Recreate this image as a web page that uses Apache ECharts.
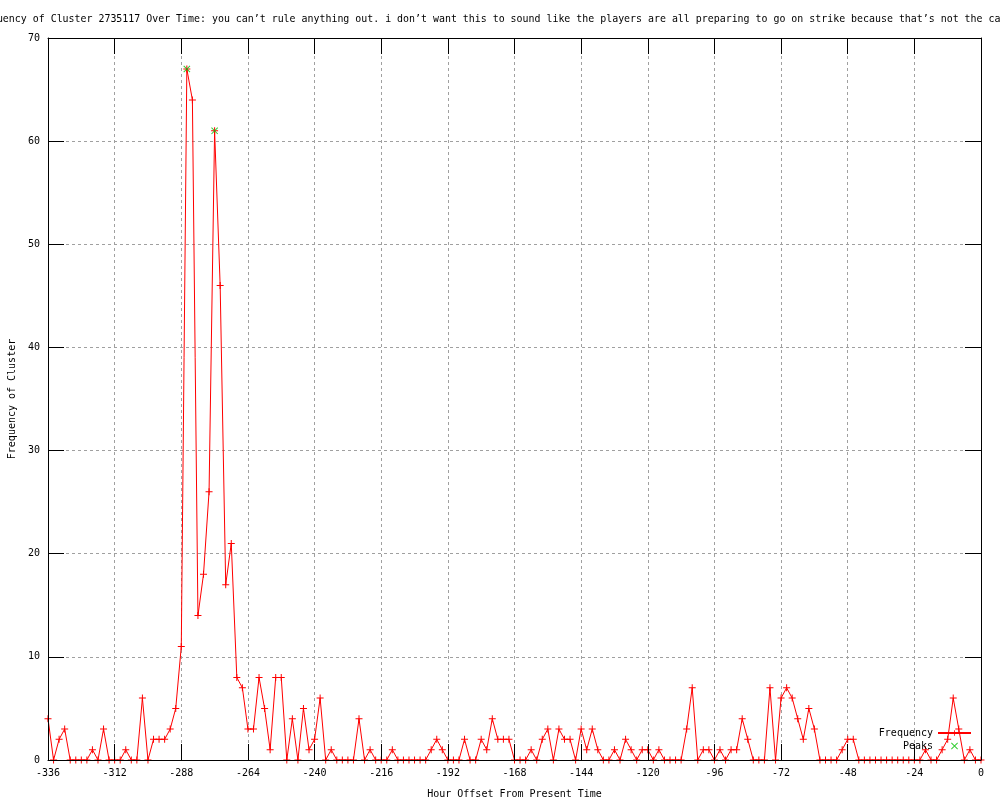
<!DOCTYPE html>
<html><head><meta charset="utf-8">
<script src="https://cdn.jsdelivr.net/npm/echarts@6/dist/echarts.min.js"></script>
<style>html,body{margin:0;padding:0;background:#fff}#c{width:1000px;height:800px}</style>
</head><body><div id="c"></div>
<script>
const titleText = "Frequency of Cluster 2735117 Over Time: you can\u2019t rule anything out. i don\u2019t want this to sound like the players are all preparing to go on strike because that\u2019s not the case";
const xAxisTitle = "Hour Offset From Present Time";
const yAxisTitle = "Frequency of Cluster";

const hours = [
  -336,-334,-332,-330,-328,-326,-324,-322,-320,-318,-316,-314,-312,-310,-308,-306,-304,-302,-300,-298,-296,-294,-292,-290,
  -288,-286,-284,-282,-280,-278,-276,-274,-272,-270,-268,-266,-264,-262,-260,-258,-256,-254,-252,-250,-248,-246,-244,-242,
  -240,-238,-236,-234,-232,-230,-228,-226,-224,-222,-220,-218,-216,-214,-212,-210,-208,-206,-204,-202,-200,-198,-196,-194,
  -192,-190,-188,-186,-184,-182,-180,-178,-176,-174,-172,-170,-168,-166,-164,-162,-160,-158,-156,-154,-152,-150,-148,-146,
  -144,-142,-140,-138,-136,-134,-132,-130,-128,-126,-124,-122,-120,-118,-116,-114,-112,-110,-108,-106,-104,-102,-100,-98,
  -96,-94,-92,-90,-88,-86,-84,-82,-80,-78,-76,-74,-72,-70,-68,-66,-64,-62,-60,-58,-56,-54,-52,-50,
  -48,-46,-44,-42,-40,-38,-36,-34,-32,-30,-28,-26,-24,-22,-20,-18,-16,-14,-12,-10,-8,-6,-4,-2,
  0
];
const frequency = [
  4,0,2,3,0,0,0,0,1,0,3,0,0,0,1,0,0,6,0,2,2,2,3,5,
  11,67,64,14,18,26,61,46,17,21,8,7,3,3,8,5,1,8,8,0,4,0,5,1,
  2,6,0,1,0,0,0,0,4,0,1,0,0,0,1,0,0,0,0,0,0,1,2,1,
  0,0,0,2,0,0,2,1,4,2,2,2,0,0,0,1,0,2,3,0,3,2,2,0,
  3,1,3,1,0,0,1,0,2,1,0,1,1,0,1,0,0,0,0,3,7,0,1,1,
  0,1,0,1,1,4,2,0,0,0,7,0,6,7,6,4,2,5,3,0,0,0,0,1,
  2,2,0,0,0,0,0,0,0,0,0,0,0,0,1,0,0,1,2,6,3,0,1,0,
  0
];
const peakHours = [-286, -276];
const peakValues = [67, 61];

const xMin = -336, xMax = 0, xStep = 24;
const yMin = 0, yMax = 70, yStep = 10;

const FONT = "DejaVu Sans Mono";
const plusSym = 'path://M3,0H4V7H3Z M0,3H7V4H0Z';
const xSym = 'path://M0,0.7L0.7,0L7,6.3L6.3,7Z M6.3,0L7,0.7L0.7,7L0,6.3Z';

const freqData = hours.map((h, i) => [h, frequency[i]]);
const peakData = peakHours.map((h, i) => [h, peakValues[i]]);

const chart = echarts.init(document.getElementById('c'), null, {renderer: 'canvas'});
const labelStyle = () => ({fontFamily: FONT, fontSize: 10, color: '#000'});
const tickStyle = () => ({show: true, inside: true, length: 16, lineStyle: {color: '#000', width: 1}});
const lineAx = () => ({show: true, onZero: false, lineStyle: {color: '#000', width: 1}});
const gridLine = () => ({show: true, lineStyle: {color: '#a0a0a0', type: [3, 3], width: 1}});

chart.setOption({
  animation: false,
  backgroundColor: '#fff',
  title: {
    text: titleText, left: -32, top: 9,
    textStyle: {fontFamily: FONT, fontSize: 9.93, fontWeight: 'normal', color: '#000'}
  },
  grid: {left: 48, right: 19, top: 38, bottom: 40, containLabel: false, outerBoundsMode: 'none'},
  legend: {
    orient: 'vertical', right: 23, top: 723, align: 'right',
    itemWidth: 33, itemHeight: 7, itemGap: 3,
    textStyle: {fontFamily: FONT, fontSize: 10, color: '#000'},
    data: ['Frequency', 'Peaks']
  },
  xAxis: [
    {type: 'value', position: 'bottom', min: xMin, max: xMax, interval: xStep, z: 3,
     axisLine: lineAx(), axisTick: tickStyle(), splitLine: {show: false},
     axisLabel: Object.assign({margin: 8}, labelStyle()),
     name: xAxisTitle, nameLocation: 'middle', nameGap: 29,
     nameTextStyle: labelStyle()},
    {type: 'value', position: 'top', min: xMin, max: xMax, interval: xStep,
     axisLine: lineAx(), axisTick: tickStyle(), splitLine: gridLine(),
     axisLabel: {show: false}}
  ],
  yAxis: [
    {type: 'value', position: 'left', min: yMin, max: yMax, interval: yStep, z: 3,
     axisLine: lineAx(), axisTick: tickStyle(), splitLine: {show: false},
     axisLabel: Object.assign({margin: 8}, labelStyle()),
     name: yAxisTitle, nameLocation: 'middle', nameGap: 30, nameRotate: 90,
     nameTextStyle: labelStyle()},
    {type: 'value', position: 'right', min: yMin, max: yMax, interval: yStep,
     axisLine: lineAx(), axisTick: tickStyle(), splitLine: gridLine(),
     axisLabel: {show: false}}
  ],
  series: [
    {name: 'Frequency', type: 'line', data: freqData, xAxisIndex: 0, yAxisIndex: 0,
     symbol: plusSym, symbolSize: 7, showSymbol: true, showAllSymbol: true,
     lineStyle: {color: '#ff0000', width: 1}, itemStyle: {color: '#ff0000'},
     clip: false, z: 2},
    {name: 'Peaks', type: 'scatter', data: peakData, xAxisIndex: 0, yAxisIndex: 0,
     symbol: xSym, symbolSize: 7, itemStyle: {color: '#00c000'}, z: 4}
  ]
});
</script>
</body></html>
